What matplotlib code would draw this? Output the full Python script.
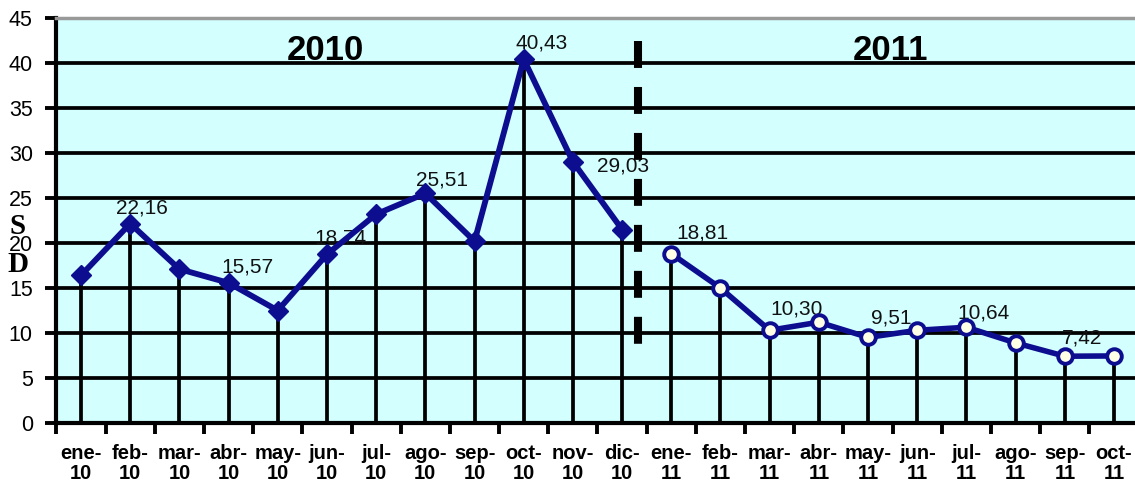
import matplotlib.pyplot as plt

plt.rcParams['font.family'] = ['Liberation Sans', 'DejaVu Sans']
plt.rcParams['lines.scale_dashes'] = False

# data
months = ["ene-\n10", "feb-\n10", "mar-\n10", "abr-\n10", "may-\n10", "jun-\n10",
          "jul-\n10", "ago-\n10", "sep-\n10", "oct-\n10", "nov-\n10", "dic-\n10",
          "ene-\n11", "feb-\n11", "mar-\n11", "abr-\n11", "may-\n11", "jun-\n11",
          "jul-\n11", "ago-\n11", "sep-\n11", "oct-\n11"]
values_2010 = [16.4, 22.16, 17.1, 15.57, 12.5, 18.74, 23.2, 25.51, 20.2, 40.43, 29.03, 21.5]
values_2011 = [18.81, 15.0, 10.30, 11.2, 9.51, 10.3, 10.64, 8.9, 7.42, 7.45]
year_labels = ["2010", "2011"]

# which points carry a label, and where the label sits (pixel offsets)
labelled = {1: (12, 16), 3: (19, 16), 5: (13, 16), 7: (17, 13), 9: (18, 16),
            10: (50, -4), 12: (31, 21), 14: (27, 21), 16: (23, 19), 18: (17, 14),
            20: (17, 18)}

navy = '#0D0D8F'
bg = '#D3FFFF'

fig = plt.figure(figsize=(11.35, 4.87), dpi=100)
ax = fig.add_axes([56.4 / 1135, 64 / 487, 1082.2 / 1135, 405 / 487])
ax.set_facecolor(bg)

x10 = list(range(len(values_2010)))
x11 = list(range(len(values_2010), len(values_2010) + len(values_2011)))
all_vals = values_2010 + values_2011

# grid lines
for g in range(5, 45, 5):
    ax.axhline(g, color='black', lw=2.7, zorder=1)

# drop lines
ax.vlines(x10 + x11, 0, all_vals, color='black', lw=2.7, zorder=2)

# series
ax.plot(x10, values_2010, color=navy, lw=4.2, marker='D', ms=10,
        mfc=navy, mec=navy, zorder=4)
ax.plot(x11, values_2011, color=navy, lw=4.0, marker='o', ms=10.5,
        mfc='#FFFFE6', mec=navy, mew=2.8, zorder=4)

# data labels
for i, (dx, dy) in labelled.items():
    ax.annotate(f"{all_vals[i]:.2f}".replace('.', ','), (i, all_vals[i]),
                xytext=(dx, dy), textcoords='offset pixels',
                ha='center', va='center', fontsize=15, color='#111111', zorder=3)

# year separator
ax.plot([11.32, 11.32], [42.5, 8.4], color='black', lw=5.8,
        dashes=(19.4, 13.7), solid_capstyle='butt', dash_capstyle='butt', zorder=5)

ax.text(4.96, 41.4, year_labels[0], fontsize=25, fontweight='bold', ha='center', va='center')
ax.text(16.45, 41.4, year_labels[1], fontsize=25, fontweight='bold', ha='center', va='center')

# axes
ax.set_xlim(-0.5, 21.5)
ax.set_ylim(0, 45)
ax.set_yticks(range(0, 50, 5))
ax.tick_params(axis='y', length=8, width=2.8, labelsize=15.5, pad=9)
ax.set_xticks(range(len(months)))
ax.set_xticklabels(months, fontsize=14.5, fontweight='bold', linespacing=1.05)
ax.tick_params(axis='x', which='major', length=0, pad=15)
ax.set_xticks([k - 0.5 for k in range(len(months) + 1)], minor=True)
ax.tick_params(axis='x', which='minor', length=8, width=2.8)

for s in ['left', 'bottom']:
    ax.spines[s].set_linewidth(3)
    ax.spines[s].set_color('black')
ax.spines['top'].set_color('#999999')
ax.spines['top'].set_linewidth(2.5)
ax.spines['right'].set_visible(False)

# y label: letters stacked over the axis labels
fig.text(18 / 1135, 1 - 226 / 487, "S", fontsize=21, fontweight='bold',
         family='Liberation Serif', ha='center', va='center')
fig.text(18 / 1135, 1 - 264 / 487, "D", fontsize=21, fontweight='bold',
         family='Liberation Serif', ha='center', va='center')

fig.savefig('out.png', dpi=100)
